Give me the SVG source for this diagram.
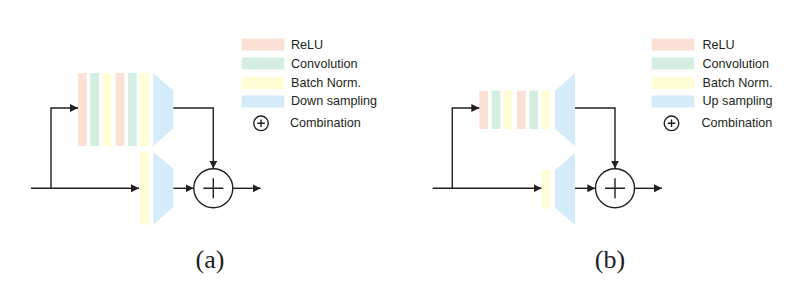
<svg xmlns="http://www.w3.org/2000/svg" width="805" height="290" viewBox="0 0 805 290">
<defs>
<style>
.relu{fill:#fce0d6}
.conv{fill:#d4efe1}
.bn{fill:#fefdd4}
.samp{fill:#d4ecf9}
.ln{fill:none;stroke:#231f20;stroke-width:1.4}
.ci{fill:#fff;stroke:#231f20;stroke-width:1.4}
.lbl{font-family:"Liberation Sans",Arial,sans-serif;font-size:12.6px;fill:#231f20}
.cap{font-family:"Liberation Serif","Times New Roman",serif;font-size:26px;fill:#231f20}
</style>
<marker id="ah" viewBox="0 0 10 10" refX="10" refY="5" markerWidth="8" markerHeight="8" markerUnits="userSpaceOnUse" orient="auto">
<path d="M0,0 L10,5 L0,10 z" fill="#231f20"/>
</marker>
</defs>
<rect width="805" height="290" fill="#fff"/>

<!-- Panel (a) -->
<g id="a-top-stack">
<rect class="relu" x="78" y="73" width="8.7" height="73"/>
<rect class="conv" x="90.3" y="73" width="8.7" height="73"/>
<rect class="bn" x="102.6" y="73" width="8.7" height="73"/>
<rect class="relu" x="115.6" y="73" width="8.7" height="73"/>
<rect class="conv" x="128" y="73" width="8.7" height="73"/>
<rect class="bn" x="140" y="73" width="8.7" height="73"/>
<polygon class="samp" points="153.3,73 173.3,90.5 173.3,128.5 153.3,146"/>
</g>
<g id="a-bottom-stack">
<rect class="bn" x="140" y="151.7" width="8.7" height="73.3"/>
<polygon class="samp" points="153.3,151.7 173.3,168.5 173.3,207 153.3,225"/>
</g>
<g id="a-combine">
<circle class="ci" cx="213.3" cy="188.3" r="19.5"/>
<path class="ln" d="M203.3,188.3 H223.3 M213.3,178.3 V198.3"/>
</g>
<g id="a-connectors">
<path class="ln" d="M31,188.3 H139" marker-end="url(#ah)"/>
<path class="ln" d="M51,188.3 V108 H78" marker-end="url(#ah)"/>
<path class="ln" d="M173.3,108 H213.3 V168.6" marker-end="url(#ah)"/>
<path class="ln" d="M173.3,188.3 H193.6" marker-end="url(#ah)"/>
<path class="ln" d="M232.8,188.3 H260.7" marker-end="url(#ah)"/>
</g>
<g id="a-legend">
<rect class="relu" x="241.7" y="38.5" width="42.6" height="12"/>
<rect class="conv" x="241.7" y="57.5" width="42.6" height="12"/>
<rect class="bn" x="241.7" y="77" width="42.6" height="12"/>
<rect class="samp" x="241.7" y="95.5" width="42.6" height="12"/>
<circle class="ci" cx="261" cy="123.3" r="7.3" stroke-width="1"/>
<path class="ln" stroke-width="1" d="M257.2,123.3 H264.8 M261,119.5 V127.1"/>
<text class="lbl" x="291" y="49">ReLU</text>
<text class="lbl" x="291" y="67.5">Convolution</text>
<text class="lbl" x="291" y="86.5">Batch Norm.</text>
<text class="lbl" x="291" y="105">Down sampling</text>
<text class="lbl" x="290" y="127">Combination</text>
</g>
<text class="cap" x="210" y="268" text-anchor="middle">(a)</text>

<!-- Panel (b) -->
<g id="b-top-stack">
<rect class="relu" x="479.3" y="90.7" width="8.7" height="38.3"/>
<rect class="conv" x="491.7" y="90.7" width="8.7" height="38.3"/>
<rect class="bn" x="503.7" y="90.7" width="8.7" height="38.3"/>
<rect class="relu" x="517" y="90.7" width="8.7" height="38.3"/>
<rect class="conv" x="529.3" y="90.7" width="8.7" height="38.3"/>
<rect class="bn" x="541.3" y="90.7" width="8.7" height="38.3"/>
<polygon class="samp" points="555,90.7 575,73.3 575,146 555,129"/>
</g>
<g id="b-bottom-stack">
<rect class="bn" x="541.7" y="170" width="8.5" height="37.7"/>
<polygon class="samp" points="555,170 575,152.7 575,225 555,207.7"/>
</g>
<g id="b-combine">
<circle class="ci" cx="615" cy="188.3" r="19.5"/>
<path class="ln" d="M605,188.3 H625 M615,178.3 V198.3"/>
</g>
<g id="b-connectors">
<path class="ln" d="M432.7,188.3 H541.5" marker-end="url(#ah)"/>
<path class="ln" d="M452.3,188.3 V108 H479.3" marker-end="url(#ah)"/>
<path class="ln" d="M575,108 H615 V168.6" marker-end="url(#ah)"/>
<path class="ln" d="M575,188.3 H595.3" marker-end="url(#ah)"/>
<path class="ln" d="M634.5,188.3 H662" marker-end="url(#ah)"/>
</g>
<g id="b-legend">
<rect class="relu" x="651.7" y="38.5" width="42.6" height="12"/>
<rect class="conv" x="651.7" y="57.5" width="42.6" height="12"/>
<rect class="bn" x="651.7" y="77" width="42.6" height="12"/>
<rect class="samp" x="651.7" y="95.5" width="42.6" height="12"/>
<circle class="ci" cx="671.5" cy="123.3" r="7.3" stroke-width="1"/>
<path class="ln" stroke-width="1" d="M667.7,123.3 H675.3 M671.5,119.5 V127.1"/>
<text class="lbl" x="702.5" y="49">ReLU</text>
<text class="lbl" x="702.5" y="67.5">Convolution</text>
<text class="lbl" x="702.5" y="86.5">Batch Norm.</text>
<text class="lbl" x="702.5" y="105">Up sampling</text>
<text class="lbl" x="701.5" y="127">Combination</text>
</g>
<text class="cap" x="610" y="268" text-anchor="middle">(b)</text>
</svg>
